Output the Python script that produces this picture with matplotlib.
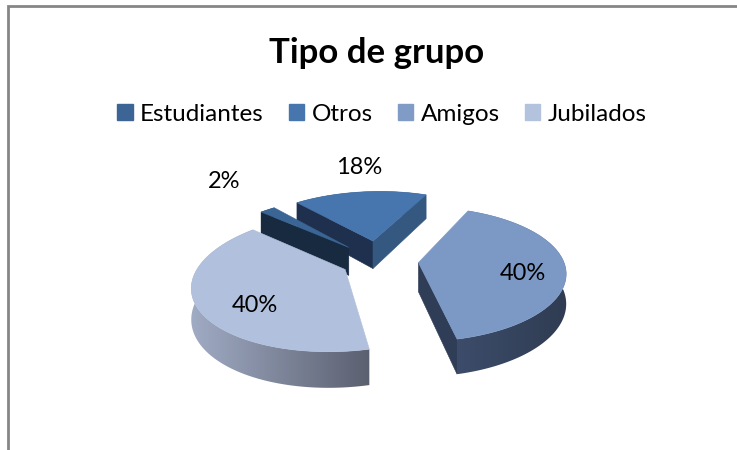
import numpy as np
import matplotlib
matplotlib.use("Agg")
import matplotlib.pyplot as plt
from matplotlib.colors import LinearSegmentedColormap
from matplotlib.patches import Polygon, Rectangle

plt.rcParams['font.family'] = ['Lato', 'DejaVu Sans']

# data
categories = ['Estudiantes', 'Otros', 'Amigos', 'Jubilados']
values = [2, 18, 40, 40]
title = 'Tipo de grupo'

# style per slice
top_colors = ['#3a6594', '#4776ae', '#7c99c5', '#b1c0dc']
legend_colors = ['#3c6595', '#4776ae', '#7f9bc6', '#b3c2dd']
rim_colors = [('#182a40', '#182a40'), ('#1e304d', '#1e304d'),
              ('#3c4c6a', '#2f3c52'), ('#a0abc4', '#5b6070')]
start_faces = ['#182a40', '#1e304d', None, None]
end_faces = [None, '#34587f', '#303d56', None]
label_pos = [(224, 182), (359, 167), (523, 273), (255, 305)]
draw_order = [1, 0, 3, 2]
explode = [0.31, 0.33, 0.28, 0.25]

# pie geometry, pixels
cx, cy = 378, 261
rx, ry = 145, 64.6
persp = 0.174
shear = 0.12
depth = 29
start_angle = 139


def project(x, y):
    s = 1 + persp * y
    py = cy - ry * y / s
    return cx + rx * x / s + shear * (cy - py), py, depth / s


fig = plt.figure(figsize=(7.37, 4.5), dpi=100)
ax = fig.add_axes([0, 0, 1, 1])

# chart frame, only top and left are in the picture
ax.plot([8, 8, 737], [450, 6, 6], color='#868686', lw=2, solid_joinstyle='miter')

angles = start_angle - np.cumsum([0] + values) * 3.6
slices = {}
for i in range(len(values)):
    a0, a1 = angles[i], angles[i + 1]
    mid = np.radians((a0 + a1) / 2)
    ex, ey = explode[i] * np.cos(mid), explode[i] * np.sin(mid)
    t = np.radians(np.linspace(a0, a1, 120))
    slices[i] = (project(ex, ey), project(ex + np.cos(t), ey + np.sin(t)))

for i in draw_order:
    (tx, ty, td), (px, py, pd) = slices[i]
    # outer rim, shaded left to right
    rim = Polygon(np.c_[np.r_[px, px[::-1]], np.r_[py, (py + pd)[::-1]]], closed=True,
                  facecolor='none', edgecolor='none')
    ax.add_patch(rim)
    cmap = LinearSegmentedColormap.from_list('rim', rim_colors[i])
    im = ax.imshow(np.linspace(0, 1, 256)[None, :], cmap=cmap, aspect='auto',
                   extent=[px.min(), px.max(), (py + pd).max(), py.min()])
    im.set_clip_path(rim)
    # cut faces
    if start_faces[i]:
        ax.fill([tx, px[0], px[0], tx], [ty, py[0], py[0] + pd[0], ty + td],
                color=start_faces[i], lw=0.4)
    if end_faces[i]:
        ax.fill([tx, px[-1], px[-1], tx], [ty, py[-1], py[-1] + pd[-1], ty + td],
                color=end_faces[i], lw=0.4)
    # top
    ax.fill(np.r_[tx, px], np.r_[ty, py], color=top_colors[i], lw=0.4)

for v, (x, y) in zip(values, label_pos):
    ax.text(x, y, f'{v}%', ha='center', va='center', fontsize=17, color='black')

ax.text(377, 53, title, ha='center', va='center', fontsize=25, fontweight='bold', color='black')

handles = [Rectangle((0, 0), 1, 1, color=c) for c in legend_colors]
ax.legend(handles, categories, ncol=4, loc='center', bbox_to_anchor=(382 / 737, 1 - 114 / 450),
          frameon=False, fontsize=17.5, handlelength=0.62, handleheight=0.62,
          handletextpad=0.3, columnspacing=1.05, borderpad=0, labelcolor='black')

ax.set_xlim(0, 737)
ax.set_ylim(450, 0)
ax.axis('off')

fig.savefig('out.png', dpi=100)
